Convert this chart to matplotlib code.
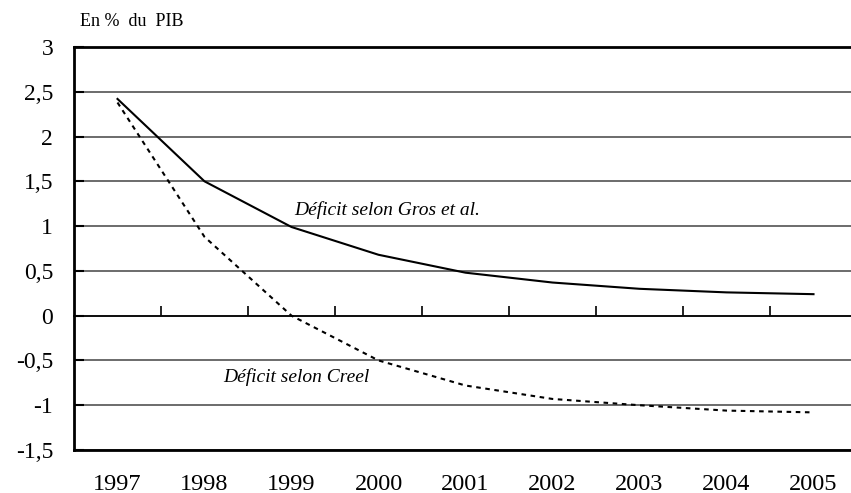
import matplotlib
matplotlib.use("Agg")
import matplotlib.pyplot as plt
import numpy as np

# Data (deficit, % of GDP)
years = ["1997", "1998", "1999", "2000", "2001", "2002", "2003", "2004", "2005"]
gros = [2.42, 1.50, 0.99, 0.68, 0.48, 0.37, 0.30, 0.26, 0.24]
creel = [2.38, 0.88, 0.0, -0.50, -0.78, -0.93, -1.00, -1.06, -1.08]
y_ticks = [-1.5, -1, -0.5, 0, 0.5, 1, 1.5, 2, 2.5, 3]
y_labels = ["-1,5", "-1", "-0,5", "0", "0,5", "1", "1,5", "2", "2,5", "3"]

plt.rcParams["font.family"] = ["Liberation Serif", "DejaVu Serif"]

fig = plt.figure(figsize=(8.51, 4.93), dpi=100)
ax = fig.add_axes([74 / 851, 43 / 493, 783 / 851, 403 / 493])

x = np.arange(len(years))
ax.plot(x, gros, color="black", lw=1.5, solid_joinstyle="round")
ax.plot(x, creel, color="black", lw=1.5, linestyle=(0, (2.2, 2.2)))

ax.set_xlim(-0.5, len(years) - 0.5)
ax.set_ylim(-1.5, 3)

# y axis
ax.set_yticks(y_ticks)
ax.set_yticklabels(y_labels, fontsize=17)
ax.tick_params(axis="y", direction="in", length=7, width=1.5, pad=15)
ax.yaxis.grid(True, color="#444444", lw=1.1)
ax.set_axisbelow(True)

# category axis on the zero line, ticks between categories
ax.spines["bottom"].set_position(("data", 0))
ax.spines["bottom"].set_linewidth(1.2)
ax.set_xticks(x)
ax.set_xticklabels([])
ax.set_xticks(x[:-1] + 0.5, minor=True)
ax.tick_params(axis="x", which="major", length=0)
ax.tick_params(axis="x", which="minor", direction="in", length=7, width=1.2)

for s in ["left", "top"]:
    ax.spines[s].set_linewidth(2)
ax.spines["right"].set_visible(False)

# frame bottom + year labels
ax2 = ax.twiny()
ax2.set_xlim(ax.get_xlim())
ax2.xaxis.set_ticks_position("bottom")
ax2.spines["bottom"].set_position(("axes", 0))
ax2.spines["bottom"].set_linewidth(2)
for s in ["top", "left", "right"]:
    ax2.spines[s].set_visible(False)
ax2.set_xticks(x)
ax2.set_xticklabels(years, fontsize=17.5)
ax2.tick_params(axis="x", length=0, pad=17)

ax.text(3.1, 1.18, "Déficit selon Gros et al.", style="italic", fontsize=14,
        ha="center", va="center")
ax.text(2.05, -0.69, "Déficit selon Creel", style="italic", fontsize=14,
        ha="center", va="center")

fig.text(80 / 851, 1 - 22 / 493, "En %  du  PIB", fontsize=13, va="center")

fig.savefig("out.png", dpi=100)
